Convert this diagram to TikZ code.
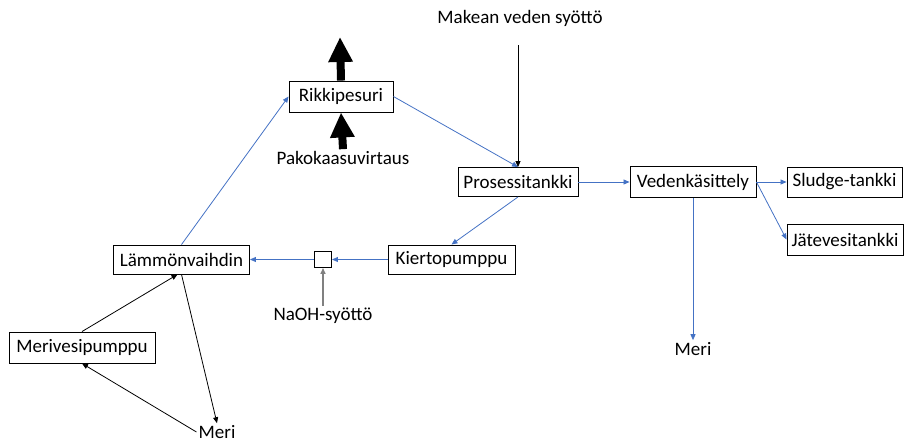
\documentclass[tikz,border=0pt]{standalone}
\usepackage{fontspec}
\setmainfont{Carlito}
\usepackage{xcolor}
\usetikzlibrary{arrows.meta, positioning, calc}
\definecolor{flowblue}{HTML}{4472C4}

\begin{document}
\begin{tikzpicture}[x=1pt, y=-1pt,
  box/.style={draw, line width=0.9pt, inner sep=0pt, font=\fontsize{19}{22}\selectfont},
  lbl/.style={inner sep=2pt, font=\fontsize{19}{22}\selectfont},
  flow/.style={draw=flowblue, line width=0.8pt, -{Triangle[length=6pt, width=5pt]}},
  feed/.style={draw=black, line width=0.8pt, -{Triangle[length=6pt, width=5pt]}},
  fat/.style={draw=black, line width=8pt, -{Triangle[length=25pt, width=23pt]}}]
\useasboundingbox (0,0) rectangle (909,442);

%units
  \node[box, minimum width=104pt, minimum height=31pt] (rikki) at (341,96.5) {Rikkipesuri};
  \node[box, minimum width=120pt, minimum height=29pt] (pros) at (518,182) {Prosessitankki};
  \node[box, minimum width=126pt, minimum height=31pt] (veden) at (693,182) {Vedenkäsittely};
  \node[box, minimum width=115pt, minimum height=30pt] (sludge) at (844.5,182) {Sludge-tankki};
  \node[box, minimum width=116pt, minimum height=31pt] (jate) at (845,239.5) {Jätevesitankki};
  \node[box, minimum width=127pt, minimum height=29pt] (kierto) at (451.5,259.5) {Kiertopumppu};
  \node[box, minimum width=17pt, minimum height=16pt] (mix) at (323,259.5) {};
  \node[box, minimum width=136pt, minimum height=29pt] (lammon) at (181.5,259.5) {Lämmönvaihdin};
  \node[box, minimum width=146pt, minimum height=31pt] (pumppu) at (82,347.5) {Merivesipumppu};

%labels
  \node[lbl] (makean) at (520,18) {Makean veden syöttö};
  \node[lbl] (pako) at (343,158) {Pakokaasuvirtaus};
  \node[lbl] (naoh) at (323,316) {NaOH-syöttö};
  \node[lbl] (meri) at (217,432) {Meri};
  \node[lbl] (meri2) at (693,349) {Meri};
  \coordinate (water) at (518,45);
  \coordinate (exhaust) at (340,37);

%exhaust gas
  \draw[fat] (pako.north) -- (rikki.south);
  \draw[fat] (rikki.north) -- (exhaust);

%scrubber loop
  \draw[flow] (lammon.north) -- (rikki.west);
  \draw[flow] (rikki.east) -- (pros.north);
  \draw[feed] (water) -- (pros.north);
  \draw[flow] (pros.east) -- (veden.west);
  \draw[flow] (veden.east) -- (sludge.west);
  \draw[flow] (veden.east) -- (jate.west);
  \draw[flow] (veden.south) -- (meri2.north);
  \draw[flow] (pros.south) -- (kierto.north);
  \draw[flow] (kierto.west) -- (mix.east);
  \draw[flow] (mix.west) -- (lammon.east);
  \draw[feed, draw=gray, line width=1.4pt] (naoh.north) -- (mix.south);

%sea water
  \draw[feed] (pumppu.north) -- ([xshift=-4pt]lammon.south);
  \draw[feed] (lammon.south) -- (meri.north);
  \draw[feed] (meri.west) -- (pumppu.south);
\end{tikzpicture}
\end{document}
